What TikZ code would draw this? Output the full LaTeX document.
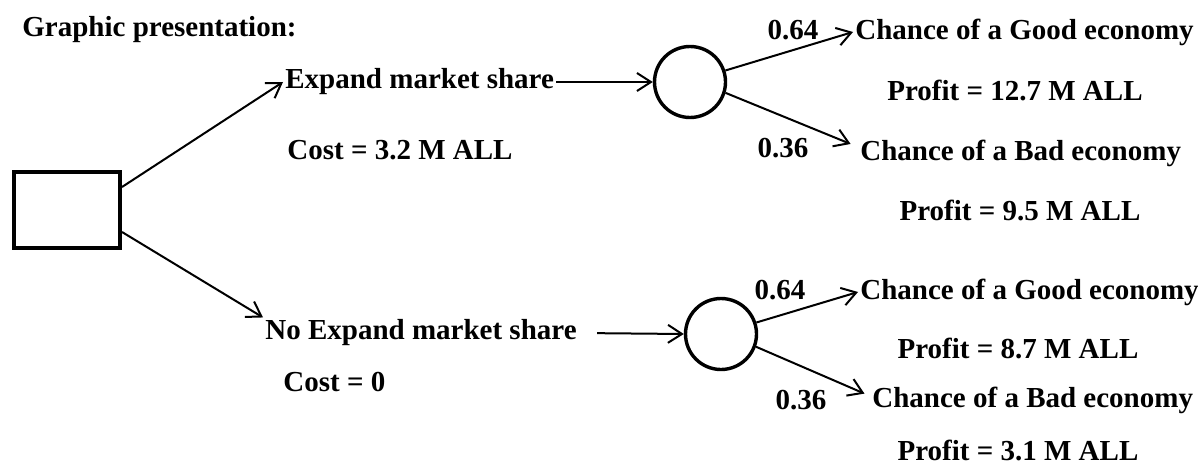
\documentclass[tikz,border=0pt]{standalone}
\usepackage{fontspec}
\setmainfont{Liberation Serif}
\usetikzlibrary{arrows.meta,positioning,calc}
\tikzset{
    lbl/.style={font=\bfseries\fontsize{14.5}{17}\selectfont, inner sep=1pt},
    txt/.style={lbl, anchor=west},
    decision/.style={draw, line width=2pt, minimum width=53pt, minimum height=38pt, inner sep=0pt},
    chance/.style={draw, circle, line width=1.7pt, minimum size=35.5pt, inner sep=0pt},
    branch/.style={-{Straight Barb[length=7pt, width=9pt, line width=1pt]}, line width=1pt}
}

\begin{document}
\begin{tikzpicture}[x=0.5pt, y=-0.5pt]
    \useasboundingbox (0,0) rectangle (1198,465);

    \node[txt] (title) at (20,30) {Graphic presentation:};
    \node[decision] (dec) at (67,210) {};

    \node[txt] (expand) at (283,82) {Expand market share};
    \node[txt] (cost1) at (285,150) {Cost = 3.2 M ALL};
    \node[txt] (noexp) at (263,333) {No Expand market share};
    \node[txt] (cost2) at (281,382) {Cost = 0};

    \node[chance] (ch1) at (690,82) {};
    \node[chance] (ch2) at (721,334) {};

    \node[txt] (good1) at (853,32) {Chance of a Good economy};
    \node[lbl] (profit1) at (1015,90) {Profit = 12.7 M ALL};
    \node[txt] (bad1) at (858,153) {Chance of a Bad economy};
    \node[lbl] (profit2) at (1020,210) {Profit = 9.5 M ALL};
    \node[txt] (good2) at (858,292) {Chance of a Good economy};
    \node[lbl] (profit3) at (1018,348) {Profit = 8.7 M ALL};
    \node[txt] (bad2) at (870,400) {Chance of a Bad economy};
    \node[lbl] (profit4) at (1018,450) {Profit = 3.1 M ALL};

    \node[lbl] (pa) at (793,30) {0.64};
    \node[lbl] (pb) at (783,148) {0.36};
    \node[lbl] (pc) at (780,290) {0.64};
    \node[lbl] (pd) at (801,400) {0.36};

    \draw[branch] ([yshift=11.5pt]dec.east) -- (expand.west);
    \draw[branch] ([yshift=-11pt]dec.east) -- (noexp.north west);
    \draw[branch] (expand.east) -- (ch1.west);
    \draw[branch, shorten <=9pt] (noexp.east) -- (ch2.west);

    \draw[branch] (ch1.18) -- (good1.west);
    \draw[branch, shorten >=4pt] (ch1.-17) -- ([yshift=3pt]bad1.west);
    \draw[branch] (ch2.18) -- (good2.west);
    \draw[branch, shorten >=3pt] (ch2.-20) -- ([yshift=2pt]bad2.west);
\end{tikzpicture}
\end{document}
